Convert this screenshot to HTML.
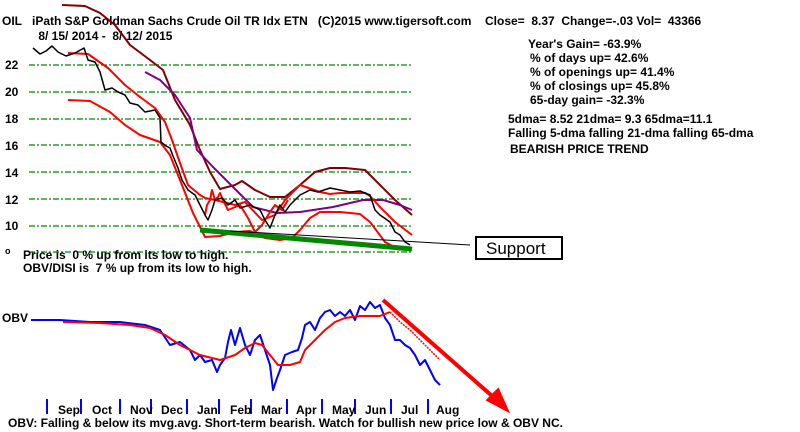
<!DOCTYPE html>
<html><head><style>body{margin:0;background:#fff}svg{display:block}text{font-family:"Liberation Sans",sans-serif;font-size:12px;fill:#000;font-weight:bold;white-space:pre}</style></head><body>
<svg width="800" height="432" viewBox="0 0 800 432">
<rect width="800" height="432" fill="#fff"/>
<text x="2" y="25">OIL</text>
<text x="32" y="25">iPath S&amp;P Goldman Sachs Crude Oil TR Idx ETN   (C)2015 www.tigersoft.com</text>
<text x="485" y="25">Close=  8.37  Change=-.03 Vol=  43366</text>
<text x="35" y="40"> 8/ 15/ 2014 -  8/ 12/ 2015</text>
<text x="528" y="48">Year's Gain= -63.9%</text>
<text x="530" y="62">% of days up= 42.6%</text>
<text x="530" y="76">% of openings up= 41.4%</text>
<text x="530" y="90">% of closings up= 45.8%</text>
<text x="530" y="104">65-day gain= -32.3%</text>
<text x="508" y="123">5dma= 8.52 21dma= 9.3 65dma=11.1</text>
<text x="508" y="137">Falling 5-dma falling 21-dma falling 65-dma</text>
<text x="510" y="153">BEARISH PRICE TREND</text>
<g><text x="5" y="69">22</text><text x="5" y="96">20</text><text x="5" y="123">18</text><text x="5" y="150">16</text><text x="5" y="177">14</text><text x="5" y="204">12</text><text x="5" y="230">10</text><text x="5" y="254" style="font-size:9px">o</text></g>
<g stroke="#080" stroke-dasharray="6,2,2,2" stroke-width="1.3">
<line x1="29" y1="65" x2="412" y2="65"/><line x1="29" y1="92" x2="412" y2="92"/><line x1="29" y1="119" x2="412" y2="119"/><line x1="29" y1="145" x2="412" y2="145"/><line x1="29" y1="172" x2="412" y2="172"/><line x1="29" y1="199" x2="412" y2="199"/><line x1="29" y1="226" x2="412" y2="226"/><line x1="29" y1="252" x2="412" y2="252"/></g>
<text x="23" y="259">Price is  0 % up from its low to high.</text>
<text x="23" y="272">OBV/DISI is  7 % up from its low to high.</text>
<g fill="none" stroke-width="2" stroke-linejoin="round">
<polyline stroke="#800000" points="62,5 85,6 100,13 115,25 130,45 150,60 163,70 175,100 190,125 200,150 210,172 220,189 235,185 242,181 255,190 270,197 285,197 300,185 315,172 330,168 345,168 365,170 380,185 395,200 412,215"/>
<polyline stroke="#800080" points="145,72 160,80 175,95 190,118 197,150 213,167 233,187 253,207 277,213 300,212 333,207 363,200 383,200 400,205 412,210"/>
<polyline stroke="#f00" points="68,53 88,54 108,68 125,85 140,97 155,108 165,122 172,140 180,163 188,185 200,195 205,198 215,200 235,205 245,202 262,220 275,215 285,200 300,185 320,192 330,194 340,193 365,193 370,196 380,207 395,222 412,235"/>
<polyline stroke="#f00" points="68,100 90,101 110,112 125,125 140,135 160,142 170,155 180,180 193,213 205,237 220,236 235,232 250,231 265,238 280,240 292,238 300,230 310,218 320,212 340,212 360,214 370,222 385,242 400,250"/>
<polyline stroke="#f00" points="205,215 207,205 210,200 212,190 215,200 218,197 220,193 223,200 228,210 240,205 248,218 255,232 262,225 270,212 275,205 282,210 288,200"/>
<polyline stroke="#000" stroke-width="1.5" points="33,48 40,54 46,51 52,46 58,52 66,56 75,53 84,48 88,60 95,62 100,72 105,90 112,88 118,92 125,95 130,103 138,105 145,112 155,110 160,118 161,142 166,146 170,148 173,156 178,168 182,180 188,190 195,195 200,205 205,215 208,220 212,210 215,200 222,198 228,205 235,200 240,208 250,205 260,210 265,220 270,228 275,215 280,205 285,212 290,205 300,195 310,190 318,192 330,188 340,190 350,192 360,191 370,195 375,210 380,215 390,222 395,232 400,235 405,242 410,245"/>
</g>
<line x1="200" y1="230" x2="412" y2="249" stroke="#080" stroke-width="5"/>
<line x1="230" y1="231" x2="470" y2="245" stroke="#000" stroke-width="1"/>
<rect x="476" y="237" width="86" height="22" fill="#fff" stroke="#000" stroke-width="2"/>
<text x="486" y="254" style="font-size:17px;font-weight:normal">Support</text>
<text x="2" y="322">OBV</text>
<g fill="none" stroke-width="2" stroke-linejoin="round">
<polyline stroke="#00f" points="31,320 60,320 90,322 120,322 145,325 160,330 170,345 180,342 190,350 195,360 200,355 205,362 212,360 217,372 220,365 225,358 228,342 231,330 235,345 240,328 245,345 250,355 255,340 260,335 265,350 270,365 273,390 277,378 280,370 285,355 292,352 298,350 302,338 305,325 310,322 315,330 320,318 325,312 330,310 335,316 340,312 345,316 350,310 355,320 360,306 365,310 370,302 375,308 380,305 385,318 390,325 395,340 400,340 405,345 410,348 415,355 420,365 425,360 430,370 435,380 440,385"/>
<polyline stroke="#f00" points="63,322 100,323 130,325 150,328 165,335 180,345 200,355 220,360 235,355 245,348 255,343 262,345 270,355 278,365 290,365 300,362 305,350 315,340 325,330 335,322 345,318 360,316 380,316 390,312"/>
<polyline stroke="#f00" stroke-width="1.5" stroke-dasharray="2,1" points="390,312 400,322 410,330 420,340 430,350 440,360"/>
</g>
<line x1="383" y1="300" x2="500" y2="403" stroke="#f00" stroke-width="4"/>
<polygon points="507,410 488,400 498,390" fill="#f00" stroke="#f00" stroke-width="3"/>
<g stroke="#00f" stroke-width="2"><line x1="47" y1="399" x2="47" y2="414"/><line x1="81" y1="399" x2="81" y2="414"/><line x1="120" y1="399" x2="120" y2="414"/><line x1="151" y1="399" x2="151" y2="414"/><line x1="187" y1="399" x2="187" y2="414"/><line x1="219" y1="399" x2="219" y2="414"/><line x1="251" y1="399" x2="251" y2="414"/><line x1="287" y1="399" x2="287" y2="414"/><line x1="322" y1="399" x2="322" y2="414"/><line x1="355" y1="399" x2="355" y2="414"/><line x1="391" y1="399" x2="391" y2="414"/><line x1="428" y1="399" x2="428" y2="414"/></g>
<g><text x="58" y="414">Sep</text><text x="92" y="414">Oct</text><text x="130" y="414">Nov</text><text x="161" y="414">Dec</text><text x="197" y="414">Jan</text><text x="230" y="414">Feb</text><text x="261" y="414">Mar</text><text x="296" y="414">Apr</text><text x="332" y="414">May</text><text x="365" y="414">Jun</text><text x="401" y="414">Jul</text><text x="436" y="414">Aug</text></g>
<text x="8" y="427">OBV: Falling &amp; below its mvg.avg. Short-term bearish. Watch for bullish new price low &amp; OBV NC.</text>
</svg>
</body></html>
